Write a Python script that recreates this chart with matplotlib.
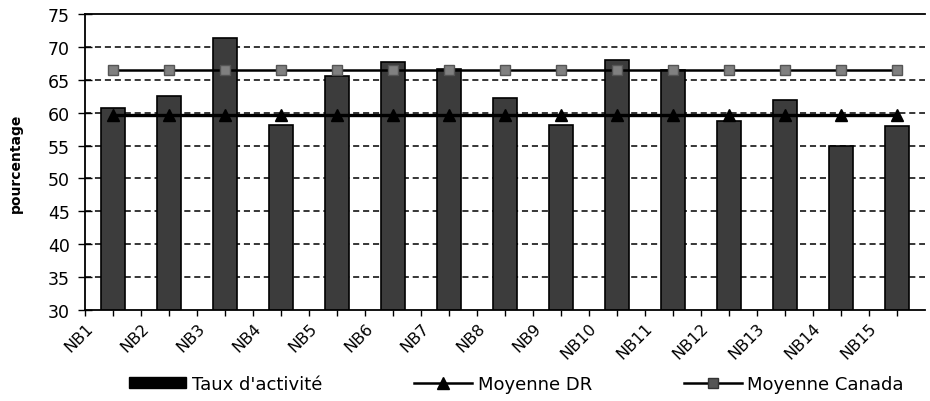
import numpy as np
import matplotlib
matplotlib.use("Agg")
import matplotlib.pyplot as plt
import matplotlib.transforms as mtransforms
from matplotlib.patches import Patch
from matplotlib.lines import Line2D

plt.rcParams['font.family'] = ['DejaVu Sans']

regions = ['NB1', 'NB2', 'NB3', 'NB4', 'NB5', 'NB6', 'NB7', 'NB8',
           'NB9', 'NB10', 'NB11', 'NB12', 'NB13', 'NB14', 'NB15']
taux = [60.7, 62.6, 71.3, 58.1, 65.5, 67.7, 66.6, 62.2,
        58.1, 68.0, 66.5, 58.7, 62.0, 55.0, 58.0]
moy_dr = [59.6] * 15
moy_canada = [66.5] * 15

fig = plt.figure(figsize=(9.3, 4.02), dpi=100)
ax = fig.add_axes([0.0914, 0.2264, 0.9032, 0.7363])

x = np.arange(len(regions))
ax.bar(x, taux, width=0.44, color='#3c3c3c', edgecolor='black', linewidth=1.2, zorder=2)
ax.plot(x, moy_dr, color='black', lw=2.4, marker='^', ms=9, mfc='black', mec='black', zorder=3)
ax.plot(x, moy_canada, color='black', lw=1.8, marker='s', ms=7, mfc='#808080', mec='#555555', zorder=3)

ax.set_ylim(30, 75)
ax.set_xlim(-0.5, len(regions) - 0.5)
ax.set_yticks(np.arange(30, 76, 5))
for v in range(35, 75, 5):
    ax.axhline(v, color='black', lw=1.1, ls=(0, (4, 2.5)), zorder=1)

# ticks at category boundaries and centres, labels near the boundaries
ax.set_xticks(x - 0.5)
ax.set_xticklabels(regions, rotation=45, ha='right', va='top', rotation_mode='anchor', fontsize=11.5)
ax.set_xticks(x, minor=True)
offset = mtransforms.ScaledTranslation(15 / 100, 0, fig.dpi_scale_trans)
for lab in ax.get_xticklabels():
    lab.set_transform(lab.get_transform() + offset)
ax.tick_params(axis='x', which='both', direction='out', length=4, width=1, pad=3)
ax.tick_params(axis='y', direction='inout', length=10, width=1, labelsize=12.5, pad=6)

ax.spines['right'].set_visible(False)
for s in ['left', 'bottom', 'top']:
    ax.spines[s].set_linewidth(1.3)

ax.set_ylabel('pourcentage', fontsize=10, fontweight='bold', labelpad=18)

handles = [Patch(facecolor='black', edgecolor='black'),
           Line2D([], [], color='black', lw=1.8, marker='^', ms=8, mfc='black'),
           Line2D([], [], color='black', lw=1.8, marker='s', ms=7, mfc='#555555', mec='#333333')]
fig.legend(handles, ["Taux d'activité", 'Moyenne DR', 'Moyenne Canada'],
           loc='center', bbox_to_anchor=(0.555, 0.042), ncol=3, frameon=False,
           fontsize=13, handlelength=3.2, handleheight=0.6, columnspacing=5.1, handletextpad=0.3)

fig.savefig('out.png', dpi=100)
